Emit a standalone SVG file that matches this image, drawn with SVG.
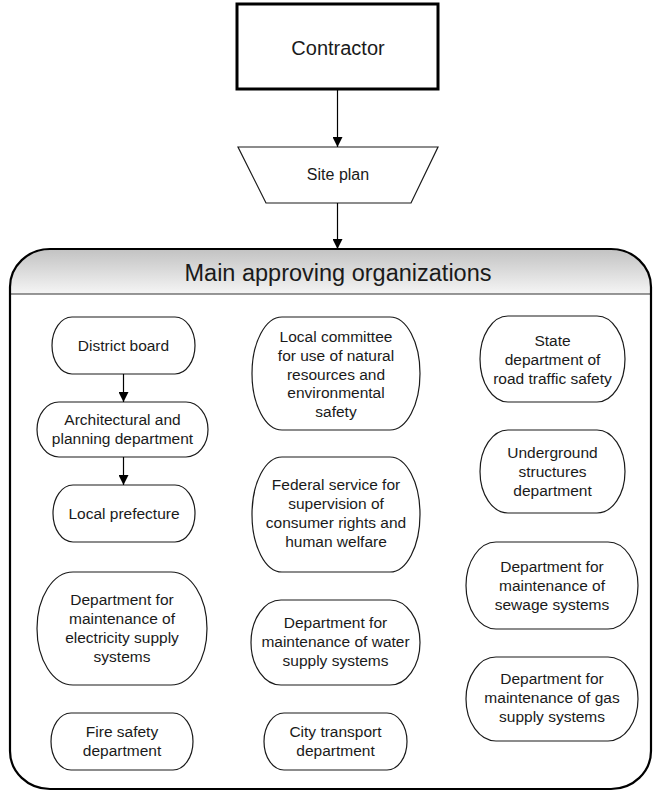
<svg xmlns="http://www.w3.org/2000/svg" width="656" height="792" viewBox="0 0 656 792">
  <defs>
    <linearGradient id="headFill" x1="0" y1="0" x2="0" y2="1">
      <stop offset="0" stop-color="#c2c2c2"/>
      <stop offset="1" stop-color="#f5f5f5"/>
    </linearGradient>
    <marker id="arrow" viewBox="0 0 10 10" refX="10" refY="5" markerWidth="10" markerHeight="10" markerUnits="userSpaceOnUse" orient="auto">
      <path d="M0,0 L10,5 L0,10 Z" fill="#000"/>
    </marker>
  </defs>
  <style>
    text { font-family: "Liberation Sans", Arial, sans-serif; fill: #1a1a1a; text-anchor: middle; }
    .node { fill: #fff; stroke: #1a1a1a; stroke-width: 1.2; }
    .label { font-size: 15.5px; }
    .edge { stroke: #000; stroke-width: 1.2; fill: none; marker-end: url(#arrow); }
  </style>

  <rect width="656" height="792" fill="#fff"/>

  <!-- top of the flow -->
  <g id="contractor">
    <rect x="237" y="4" width="201" height="85" fill="#fff" stroke="#000" stroke-width="3"/>
    <text x="338" y="55" font-size="20">Contractor</text>
  </g>
  <g id="site-plan">
    <polygon points="238,147 438,147 411,203 266,203" fill="#fff" stroke="#1a1a1a" stroke-width="1.2"/>
    <text x="338" y="180" font-size="16">Site plan</text>
  </g>

  <!-- container with shaded header -->
  <g id="main-approving">
    <path d="M10,294 V287 A40,38 0 0 1 50,249 H611 A40,38 0 0 1 651,287 V294 Z" fill="url(#headFill)"/>
    <line x1="10" y1="294" x2="651" y2="294" stroke="#333" stroke-width="1.2"/>
    <path d="M10,287 A40,38 0 0 1 50,249 H611 A40,38 0 0 1 651,287 V751 A40,38 0 0 1 611,789 H50 A40,38 0 0 1 10,751 Z" fill="none" stroke="#000" stroke-width="2.2"/>
    <text x="338" y="281" font-size="23.5">Main approving organizations</text>
  </g>

  <!-- left column -->
  <g id="district-board">
    <rect class="node" x="52" y="317" width="143" height="57" rx="20" ry="28.5"/>
    <text class="label" x="123.5" y="351">District board</text>
  </g>
  <g id="architectural">
    <rect class="node" x="37" y="402" width="171" height="55" rx="22" ry="27.5"/>
    <text class="label" x="122.5" y="425">Architectural and</text>
    <text class="label" x="122.5" y="444">planning department</text>
  </g>
  <g id="local-prefecture">
    <rect class="node" x="53" y="485" width="142" height="57" rx="20" ry="28.5"/>
    <text class="label" x="124" y="519">Local prefecture</text>
  </g>
  <g id="electricity">
    <rect class="node" x="37" y="572" width="170" height="113" rx="36" ry="56.5"/>
    <text class="label" x="122" y="605">Department for</text>
    <text class="label" x="122" y="624">maintenance of</text>
    <text class="label" x="122" y="643">electricity supply</text>
    <text class="label" x="122" y="662">systems</text>
  </g>
  <g id="fire-safety">
    <rect class="node" x="51" y="713" width="142" height="57" rx="20" ry="28.5"/>
    <text class="label" x="122" y="737">Fire safety</text>
    <text class="label" x="122" y="756">department</text>
  </g>

  <!-- middle column -->
  <g id="local-committee">
    <rect class="node" x="252" y="317" width="168" height="113" rx="30" ry="56.5"/>
    <text class="label" x="336" y="342">Local committee</text>
    <text class="label" x="336" y="360.8">for use of natural</text>
    <text class="label" x="336" y="379.6">resources and</text>
    <text class="label" x="336" y="398.4">environmental</text>
    <text class="label" x="336" y="417.2">safety</text>
  </g>
  <g id="federal-service">
    <rect class="node" x="252" y="457" width="168" height="115" rx="30" ry="57.5"/>
    <text class="label" x="336" y="490">Federal service for</text>
    <text class="label" x="336" y="509">supervision of</text>
    <text class="label" x="336" y="528">consumer rights and</text>
    <text class="label" x="336" y="547">human welfare</text>
  </g>
  <g id="water-supply">
    <rect class="node" x="251" y="600" width="169" height="85" rx="30" ry="42.5"/>
    <text class="label" x="335.5" y="628">Department for</text>
    <text class="label" x="335.5" y="647">maintenance of water</text>
    <text class="label" x="335.5" y="666">supply systems</text>
  </g>
  <g id="city-transport">
    <rect class="node" x="264" y="713" width="143" height="57" rx="20" ry="28.5"/>
    <text class="label" x="335.5" y="737">City transport</text>
    <text class="label" x="335.5" y="756">department</text>
  </g>

  <!-- right column -->
  <g id="road-traffic">
    <rect class="node" x="480" y="316" width="145" height="86" rx="28" ry="43"/>
    <text class="label" x="552.5" y="346">State</text>
    <text class="label" x="552.5" y="365">department of</text>
    <text class="label" x="552.5" y="384">road traffic safety</text>
  </g>
  <g id="underground">
    <rect class="node" x="480" y="430" width="145" height="83" rx="28" ry="41.5"/>
    <text class="label" x="552.5" y="458">Underground</text>
    <text class="label" x="552.5" y="477">structures</text>
    <text class="label" x="552.5" y="496">department</text>
  </g>
  <g id="sewage">
    <rect class="node" x="466" y="542" width="172" height="87" rx="30" ry="43.5"/>
    <text class="label" x="552" y="572">Department for</text>
    <text class="label" x="552" y="591">maintenance of</text>
    <text class="label" x="552" y="610">sewage systems</text>
  </g>
  <g id="gas-supply">
    <rect class="node" x="466" y="657" width="172" height="84" rx="30" ry="42"/>
    <text class="label" x="552" y="684">Department for</text>
    <text class="label" x="552" y="703">maintenance of gas</text>
    <text class="label" x="552" y="722">supply systems</text>
  </g>

  <!-- connectors -->
  <g id="connectors">
    <line class="edge" x1="337.5" y1="89" x2="337.5" y2="147"/>
    <line class="edge" x1="337.5" y1="203" x2="337.5" y2="249"/>
    <line class="edge" x1="123.5" y1="374" x2="123.5" y2="402"/>
    <line class="edge" x1="123.5" y1="457" x2="123.5" y2="485"/>
  </g>
</svg>
